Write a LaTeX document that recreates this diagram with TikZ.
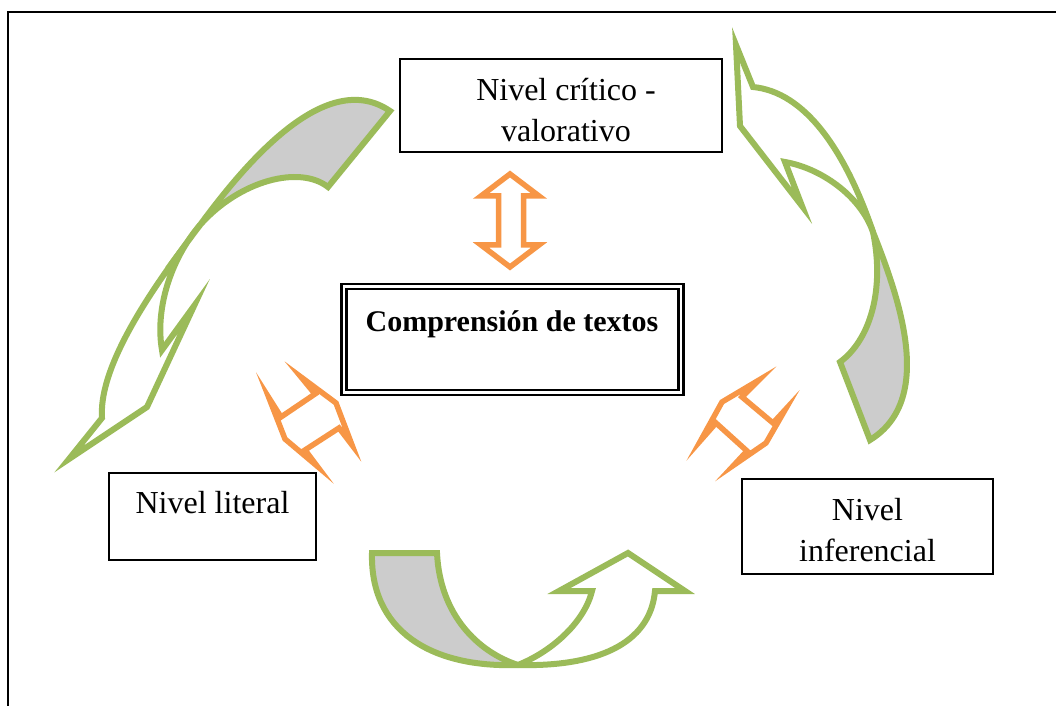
\documentclass[tikz,border=0pt]{standalone}
\usepackage{fontspec}
\setmainfont{Liberation Serif}
\definecolor{levelgreen}{HTML}{9BBB59}
\definecolor{linkorange}{HTML}{F79646}
\definecolor{foldgray}{HTML}{CCCCCC}
\tikzset{
    levelbox/.style={draw, line width=1pt, inner sep=0pt},
    leveltext/.style={inner sep=0pt, anchor=base, align=center,
        font=\fontsize{16}{20.5}\selectfont},
    foldback/.style={draw=levelgreen, line width=3pt, fill=foldgray,
        line join=miter, miter limit=20},
    foldfront/.style={draw=levelgreen, line width=3pt, fill=white,
        line join=miter, miter limit=20},
    linkarrow/.style={draw=linkorange, line width=2.75pt, fill=white,
        line join=miter, miter limit=20}
}
\begin{document}
\begin{tikzpicture}[x=0.5pt, y=-0.5pt]

    \useasboundingbox (0,0) rectangle (1056,706);
    \draw[line width=1pt] (1056,12.5) -- (7.5,12.5) -- (7.5,706);

    % levels
    \node[levelbox,
        minimum width=161pt,
        minimum height=46.5pt] (critico) at (561,105.5) {};
    \node[leveltext] (criticotxt) at (566,141) {Nivel crítico -\\valorativo};

    \node[levelbox,
        double,
        double distance=1.2pt,
        line width=1.25pt,
        minimum width=168.5pt,
        minimum height=53pt] (comprension) at (512.5,339.6) {};
    \node[leveltext,
        font=\bfseries\fontsize{15}{18}\selectfont] (comprensiontxt) at (512,331) {Comprensión de textos};

    \node[levelbox,
        minimum width=103.5pt,
        minimum height=43.5pt] (literal) at (212.5,516.5) {};
    \node[leveltext] (literaltxt) at (212.5,513) {Nivel literal};

    \node[levelbox,
        minimum width=125.5pt,
        minimum height=47.5pt] (inferencial) at (867.5,526.5) {};
    \node[leveltext] (inferencialtxt) at (867.5,561) {Nivel\\inferencial};

    % orange double arrows
    \draw[linkarrow] (510,174) -- (539,196) -- (523.5,196) -- (523.5,245) -- (539,245)
        -- (510,267) -- (481,245) -- (498.5,245) -- (498.5,196) -- (481,196) -- cycle;
    \draw[linkarrow] (301,377) -- (336,403) -- (352,445) -- (339,428) -- (305,450)
        -- (317,466) -- (285,439) -- (269,398) -- (281,417) -- (315,394) -- cycle;
    \draw[linkarrow] (759,380) -- (722,402) -- (701,440) -- (716,423) -- (747,451)
        -- (734,465) -- (766,443) -- (785,410) -- (773,423) -- (742,397) -- cycle;

    % green curved arrows
    \draw[foldback] (390,111) .. controls (330,70) and (255,150) .. (200,225)
        .. controls (240,180) and (300,165) .. (328,187) -- cycle;
    \draw[foldfront] (200,225) .. controls (165,272) and (98,360) .. (102,418)
        -- (69,459) -- (147,407) -- (194,306) -- (162,350)
        .. controls (155,310) and (170,260) .. (200,225) -- cycle;

    \draw[foldback] (873,232) .. controls (900,300) and (935,400) .. (870,440)
        -- (840,362) .. controls (870,340) and (885,290) .. (873,232) -- cycle;
    \draw[foldfront] (753,87) .. controls (805,92) and (845,150) .. (873,232)
        .. controls (860,195) and (820,168) .. (785,162)
        -- (802,206) -- (740,126) -- (736,45) -- cycle;

    \draw[foldback] (372,553) -- (437,553) .. controls (440,615) and (478,652) .. (518,665)
        .. controls (430,668) and (370,630) .. (372,553) -- cycle;
    \draw[foldfront] (518,665) .. controls (595,667) and (650,645) .. (655,591)
        -- (685,591) -- (628,553) -- (559,591) -- (592,591)
        .. controls (585,620) and (555,650) .. (518,665) -- cycle;

\end{tikzpicture}
\end{document}
